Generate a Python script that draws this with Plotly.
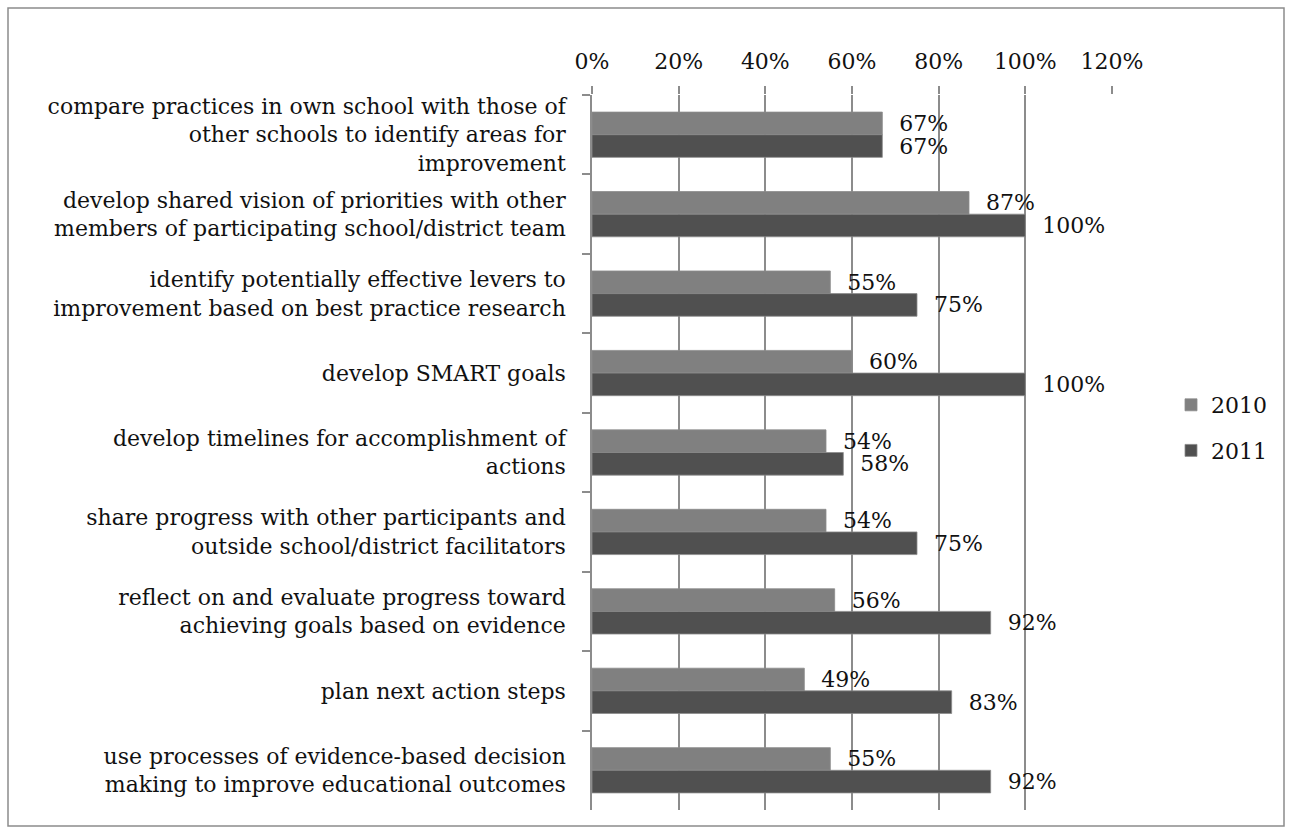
import plotly.graph_objects as go

categories = [
    "compare practices in own school with those of<br>other schools to identify areas for<br>improvement",
    "develop shared vision of priorities with other<br>members of participating school/district team",
    "identify potentially effective levers to<br>improvement based on best practice research",
    "develop SMART goals",
    "develop timelines for accomplishment of<br>actions",
    "share progress with other participants and<br>outside school/district facilitators",
    "reflect on and evaluate progress toward<br>achieving goals based on evidence",
    "plan next action steps",
    "use processes of evidence-based decision<br>making to improve educational outcomes",
]
values_2010 = [0.67, 0.87, 0.55, 0.60, 0.54, 0.54, 0.56, 0.49, 0.55]
values_2011 = [0.67, 1.00, 0.75, 1.00, 0.58, 0.75, 0.92, 0.83, 0.92]
series_names = ["2010", "2011"]
x_ticks = [0, 0.2, 0.4, 0.6, 0.8, 1.0, 1.2]
x_tick_labels = ["0%", "20%", "40%", "60%", "80%", "100%", "120%"]

FONT = "DejaVu Serif"
FS = 22
W, H = 1292, 833
L, R, T, B = 592, 180, 95, 23
pw, ph = W - L - R, H - T - B

fig = go.Figure()
for name, vals, col in [(series_names[0], values_2010, "#808080"),
                        (series_names[1], values_2011, "#505050")]:
    fig.add_trace(go.Bar(
        y=categories, x=vals, name=name, orientation="h",
        marker=dict(color=col, line=dict(color="#8c8c8c", width=0.8)),
        text=["  %d%%" % round(v * 100) for v in vals],
        textposition="outside", constraintext="none", cliponaxis=False,
        textfont=dict(family=FONT, size=FS, color="#111111"),
        legendgroup=name,
    ))

fig.update_layout(
    width=W, height=H,
    margin=dict(l=L, r=R, t=T, b=B),
    paper_bgcolor="white", plot_bgcolor="white",
    barmode="group", bargap=0.43, bargroupgap=0,
    font=dict(family=FONT, size=FS, color="#111111"),
    showlegend=True,
    legend=dict(x=(1171 - L) / pw, y=(H - B - 428) / ph, xanchor="left", yanchor="middle",
                font=dict(family=FONT, size=FS), tracegroupgap=14, traceorder="grouped",
                itemwidth=30),
    xaxis=dict(
        side="top", range=[0, 1.2], tickvals=x_ticks, ticktext=x_tick_labels,
        showgrid=True, gridcolor="#8c8c8c", gridwidth=1.5,
        ticks="outside", ticklen=8, tickcolor="#8c8c8c", tickwidth=1.5,
        ticklabelstandoff=8,
        showline=False, zeroline=False, tickfont=dict(family=FONT, size=FS),
    ),
    yaxis=dict(
        autorange="reversed", ticks="outside", tickson="boundaries", ticklen=8,
        tickcolor="#8c8c8c", tickwidth=1.5, showline=True, linecolor="#8c8c8c", linewidth=1.5,
        ticklabelstandoff=20, tickfont=dict(family=FONT, size=FS),
    ),
    shapes=[dict(type="rect", xref="paper", yref="paper",
                 x0=(8 - L) / pw, x1=(1284 - L) / pw,
                 y0=(H - B - 826) / ph, y1=(H - B - 8) / ph,
                 line=dict(color="#8c8c8c", width=1.5), fillcolor="rgba(0,0,0,0)", layer="below")],
)

fig.write_html("out.html")
